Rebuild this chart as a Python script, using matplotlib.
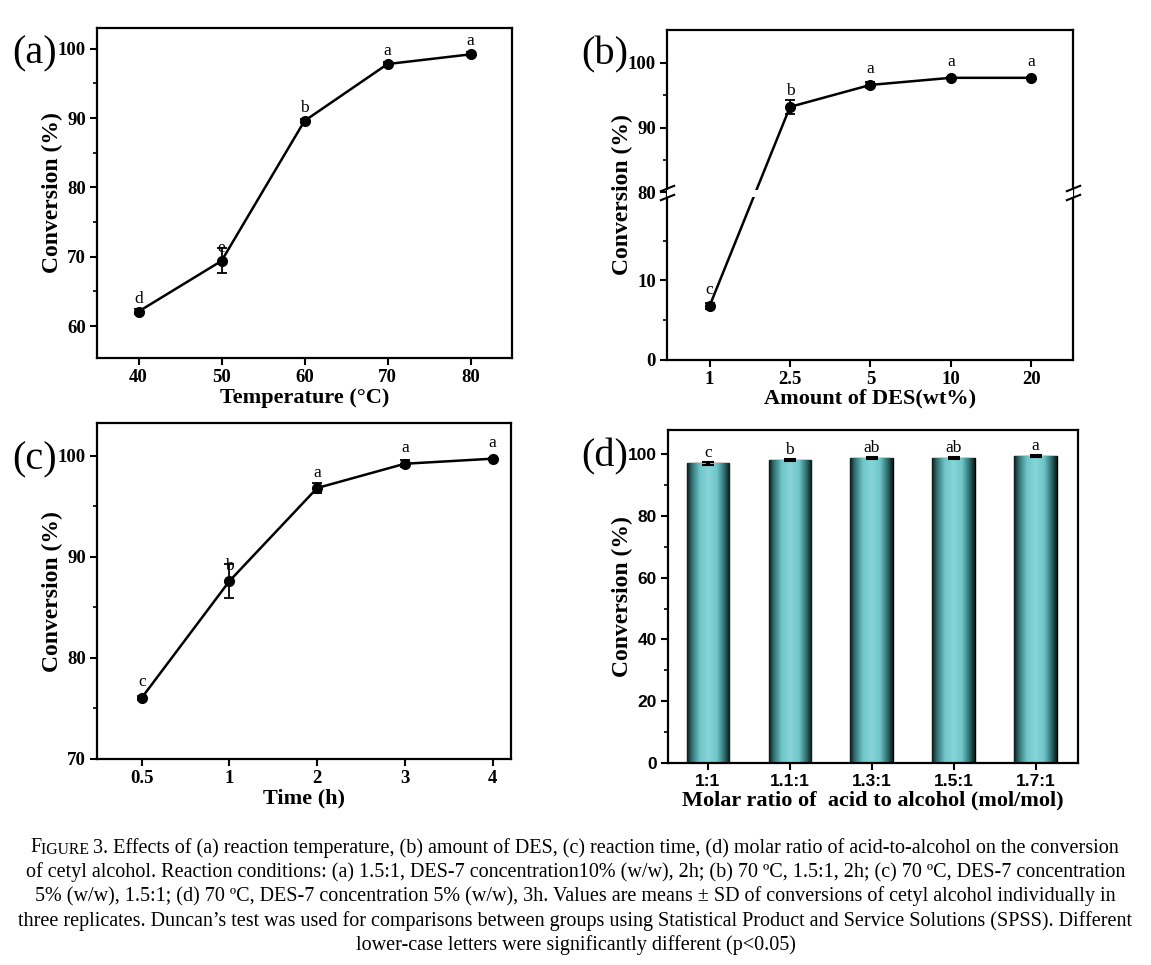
import numpy as np
import matplotlib
matplotlib.use('Agg')
import matplotlib.pyplot as plt
from matplotlib.ticker import FixedLocator, MultipleLocator, FixedFormatter
from matplotlib.colors import LinearSegmentedColormap

plt.rcParams['font.family'] = ['Liberation Serif', 'DejaVu Serif']

# ---------------- data ----------------
temp = [40, 50, 60, 70, 80]
conv_a = [62.1, 69.4, 89.6, 97.8, 99.2]
err_a = [0.3, 1.8, 0.3, 0.3, 0.3]
let_a = ['d', 'e', 'b', 'a', 'a']

des_labels = ['1', '2.5', '5', '10', '20']
conv_b = [6.8, 93.2, 96.6, 97.7, 97.7]
err_b = [0.4, 1.1, 0.4, 0.2, 0.2]
let_b = ['c', 'b', 'a', 'a', 'a']

time_labels = ['0.5', '1', '2', '3', '4']
conv_c = [76.05, 87.6, 96.8, 99.2, 99.7]
err_c = [0.2, 1.65, 0.45, 0.35, 0.1]
let_c = ['c', 'b', 'a', 'a', 'a']

ratio_labels = ['1:1', '1.1:1', '1.3:1', '1.5:1', '1.7:1']
conv_d = [97.1, 98.2, 98.9, 98.9, 99.4]
err_d = [0.5, 0.2, 0.3, 0.3, 0.3]
let_d = ['c', 'b', 'ab', 'ab', 'a']

caption_first = "3. Effects of (a) reaction temperature, (b) amount of DES, (c) reaction time, (d) molar ratio of acid-to-alcohol on the conversion"
caption_lines = [
    "of cetyl alcohol. Reaction conditions: (a) 1.5:1, DES-7 concentration10% (w/w), 2h; (b) 70 \u00baC, 1.5:1, 2h; (c) 70 \u00baC, DES-7 concentration",
    "5% (w/w), 1.5:1; (d) 70 \u00baC, DES-7 concentration 5% (w/w), 3h. Values are means \u00b1 SD of conversions of cetyl alcohol individually in",
    "three replicates. Duncan\u2019s test was used for comparisons between groups using Statistical Product and Service Solutions (SPSS). Different",
    "lower-case letters were significantly different (p<0.05)",
]

# ---------------- style ----------------
W, H = 1151, 965
fig = plt.figure(figsize=(W / 100, H / 100), dpi=100)

TICK_FS = 13.5
XLAB_FS = 16
YLAB_FS = 17
LET_FS = 12.5
SPW = 1.6
PANEL_FS = 29


def frame(x0, y0, x1, y1):
    return fig.add_axes([x0 / W, 1 - y1 / H, (x1 - x0) / W, (y1 - y0) / H])


def style(ax, sans=False):
    for s in ax.spines.values():
        s.set_linewidth(SPW)
    ax.tick_params(which='major', direction='out', length=5, width=1.5,
                   labelsize=TICK_FS, top=False, right=False, pad=3)
    ax.tick_params(which='minor', direction='out', length=3, width=1.2,
                   top=False, right=False)
    for lab in ax.get_xticklabels() + ax.get_yticklabels():
        lab.set_fontweight('bold')
        if sans:
            lab.set_family(['Liberation Sans', 'DejaVu Sans'])


def letters(ax, xs, ys, labs, dy):
    for x, y, t in zip(xs, ys, labs):
        ax.annotate(t, (x, y), xytext=(0, dy), textcoords='offset points',
                    ha='center', va='baseline', fontsize=LET_FS)


def line_plot(ax, xs, ys, es):
    ax.errorbar(xs, ys, yerr=es, color='black', lw=1.8, marker='o', ms=7,
                capsize=3.5, elinewidth=1.3, capthick=1.3, zorder=3)


def labels(ax, xl, pad_x=1):
    ax.set_xlabel(xl, fontsize=XLAB_FS, fontweight='bold', labelpad=pad_x)
    ax.set_ylabel('Conversion (%)', fontsize=YLAB_FS, fontweight='bold', labelpad=-4)


# ---------------- (a) ----------------
ax = frame(97, 28, 512, 358)
line_plot(ax, temp, conv_a, err_a)
ax.set_xlim(35, 85)
ax.set_ylim(55.4, 103)
ax.set_xticks(temp)
ax.yaxis.set_major_locator(FixedLocator([60, 70, 80, 90, 100]))
ax.yaxis.set_minor_locator(FixedLocator([65, 75, 85, 95]))
style(ax)
letters(ax, temp, conv_a, let_a, 6.5)
labels(ax, 'Temperature (\u00b0C)')
fig.text(12 / W, 1 - 54 / H, '(a)', fontsize=PANEL_FS, va='center', ha='left')

# ---------------- (b) broken axis ----------------
B_LO, B_HI, GAP = 20.8, 80.0, 0.3
K = 6.5 / 8.0


def fwd(y):
    y = np.asarray(y, dtype=float)
    return np.where(y <= B_LO, y,
                    np.where(y >= B_HI, B_LO + GAP + (y - B_HI) * K,
                             B_LO + GAP * (y - B_LO) / (B_HI - B_LO)))


def inv(v):
    v = np.asarray(v, dtype=float)
    return np.where(v <= B_LO, v,
                    np.where(v >= B_LO + GAP, B_HI + (v - B_LO - GAP) / K,
                             B_LO + (v - B_LO) * (B_HI - B_LO) / GAP))


ax = frame(667, 30, 1073, 360)
ax.set_yscale('function', functions=(fwd, inv))
xb = np.arange(len(des_labels))
line_plot(ax, xb, conv_b, err_b)
ax.set_xlim(-0.53, 4.52)
ax.set_ylim(0, 105.1)
ax.set_xticks(xb)
ax.set_xticklabels(des_labels)
ax.yaxis.set_major_locator(FixedLocator([0, 10, 80, 90, 100]))
ax.yaxis.set_minor_locator(FixedLocator([5, 15, 85, 95]))
ax.yaxis.set_major_formatter(FixedFormatter(['0', '10', '80', '90', '100']))
style(ax)
# small gap in the line across the break
ax.axhspan(B_LO - 0.25, B_HI + 0.35, color='white', zorder=3.5, lw=0)
tr = ax.get_yaxis_transform()
for xx in (0, 1):
    for yy in (B_LO - 0.3, B_HI + 0.6):
        ax.plot([xx], [yy], transform=tr, clip_on=False,
                marker=[(-1, -0.4), (1, 0.4)], ms=11, mew=1.5, color='black',
                ls='none', zorder=5)
letters(ax, xb, conv_b, let_b, 8.3)
labels(ax, 'Amount of DES(wt%)', pad_x=0)
fig.text(581 / W, 1 - 55 / H, '(b)', fontsize=PANEL_FS, va='center', ha='left')

# ---------------- (c) ----------------
ax = frame(97, 423.3, 511, 759)
xc = np.arange(len(time_labels))
line_plot(ax, xc, conv_c, err_c)
ax.set_xlim(-0.51, 4.21)
ax.set_ylim(70, 103.2)
ax.set_xticks(xc)
ax.set_xticklabels(time_labels)
ax.yaxis.set_major_locator(FixedLocator([70, 80, 90, 100]))
ax.yaxis.set_minor_locator(FixedLocator([75, 85, 95]))
style(ax)
letters(ax, xc, conv_c, let_c, 8.2)
labels(ax, 'Time (h)')
fig.text(12 / W, 1 - 460 / H, '(c)', fontsize=PANEL_FS, va='center', ha='left')

# ---------------- (d) ----------------
ax = frame(667.7, 430, 1078.3, 762.7)
xd = np.arange(len(ratio_labels))
bars = ax.bar(xd, conv_d, width=0.52, color='#7fcfd3', edgecolor='black', lw=1.0, zorder=2)
cmap = LinearSegmentedColormap.from_list(
    'barg', [(0.0, '#0d1616'), (0.1, '#2c6a6b'), (0.3, '#6fc6c9'),
             (0.5, '#86d4d7'), (0.7, '#6fc6c9'), (0.88, '#2c6a6b'), (1.0, '#0d1616')])
grad = np.linspace(0, 1, 256).reshape(1, -1)
for b in bars:
    x0 = b.get_x()
    im = ax.imshow(grad, extent=[x0, x0 + b.get_width(), 0, b.get_height()],
                   aspect='auto', cmap=cmap, zorder=2.1, interpolation='bicubic')
    im.set_clip_path(b)
ax.errorbar(xd, conv_d, yerr=err_d, fmt='none', ecolor='black', elinewidth=3,
            capsize=4, capthick=1.5, zorder=4)
ax.set_xlim(-0.49, 4.52)
ax.set_ylim(0, 107.9)
ax.set_xticks(xd)
ax.set_xticklabels(ratio_labels)
ax.yaxis.set_major_locator(MultipleLocator(20))
ax.yaxis.set_minor_locator(MultipleLocator(10))
style(ax, sans=True)
ax.tick_params(axis='both', labelsize=12.5)
letters(ax, xd, np.array(conv_d) + np.array(err_d), let_d, 3.5)
labels(ax, 'Molar ratio of  acid to alcohol (mol/mol)')
fig.text(581 / W, 1 - 457 / H, '(d)', fontsize=PANEL_FS, va='center', ha='left')

# ---------------- caption ----------------
CAP_FS = 14.5
ax0 = fig.axes[0]
t1 = fig.text(30 / W, 1 - 848 / H, 'F', fontsize=CAP_FS, va='center', ha='left')
a1 = ax0.annotate('IGURE ', xy=(1, 0), xycoords=t1, va='bottom', ha='left',
                  fontsize=CAP_FS * 0.78, annotation_clip=False)
a2 = ax0.annotate(caption_first, xy=(1, 0), xycoords=a1, va='bottom', ha='left',
                  fontsize=CAP_FS, annotation_clip=False)
ys = [872, 896, 921, 945]
for line, yy in zip(caption_lines, ys):
    fig.text(0.5, 1 - yy / H, line, fontsize=CAP_FS, ha='center', va='center')

fig.savefig('out.png', dpi=100)
